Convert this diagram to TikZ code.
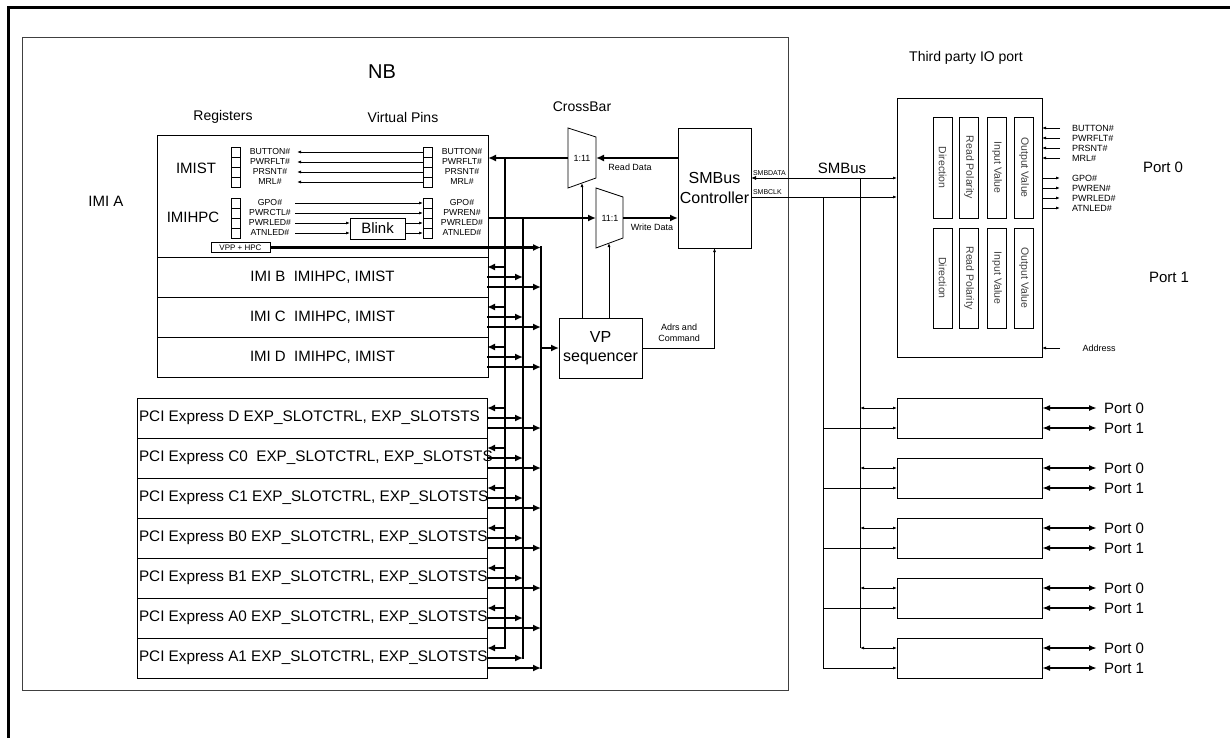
\documentclass[tikz,border=0pt]{standalone}
\usepackage{fontspec}
\setmainfont{Liberation Sans}
\usetikzlibrary{arrows.meta,calc}
\begin{document}
\begin{tikzpicture}[x=1pt,y=-1pt,
  every node/.style={inner sep=0pt,outer sep=0pt},
  box/.style={draw,line width=0.8pt},
  sq/.style={draw,line width=0.6pt,minimum width=9pt,minimum height=10pt},
  fbig/.style={font=\fontsize{20}{24}\selectfont},
  f16/.style={font=\fontsize{16}{19.5}\selectfont},
  f15/.style={font=\fontsize{15}{18}\selectfont},
  fpci/.style={font=\fontsize{15.3}{18}\selectfont},
  f14/.style={font=\fontsize{14}{17}\selectfont},
  f10/.style={font=\fontsize{10.5}{12}\selectfont},
  f9/.style={font=\fontsize{9}{11}\selectfont},
  f85/.style={font=\fontsize{8.7}{10}\selectfont},
  f7/.style={font=\fontsize{7}{8}\selectfont},
  bus/.style={line width=2.4pt},
  tl/.style={line width=0.8pt},
  ah/.style={-{Latex[length=8pt,width=7pt]}},
  sah/.style={-{Latex[length=4pt,width=3pt]}},
  dsah/.style={{Latex[length=4pt,width=3pt]}-{Latex[length=4pt,width=3pt]}},
  pah/.style={line width=1.8pt,{Latex[length=8pt,width=6pt]}-{Latex[length=8pt,width=6pt]}},
]
\useasboundingbox (0,0) rectangle (1230,738);
\fill[white] (0,0) rectangle (1230,738);
\draw[line width=3pt] (8,738) -- (8,8) -- (1230,8);

% NB box
\node[draw=black!75,line width=1pt,minimum width=766pt,minimum height=652pt] (nb) at (405,364) {};
\node[fbig] (nbl) at (382,72) {NB};
\node[f14] (tpl) at (966,58) {Third party IO port};
\node[f14] (regl) at (223,117) {Registers};
\node[f14] (vpl) at (403,117) {Virtual Pins};
\node[f14] (cbl) at (582,107) {CrossBar};
\node[f15] (imial) at (106,201) {IMI A};

% IMI A
\node[box,minimum width=331pt,minimum height=122pt] (imia) at (322.5,196) {};
\node[f15] (imist) at (196,168) {IMIST};
\node[f15] (imihpc) at (193,217) {IMIHPC};
\foreach \y in {152,162,172,182,203,213,223,233}{
  \node[sq] at (235.5,\y) {};
  \node[sq] at (427.5,\y) {};
}
\foreach \y/\a/\b in {152/BUTTON\#/BUTTON\#,162/PWRFLT\#/PWRFLT\#,172/PRSNT\#/PRSNT\#,182/MRL\#/MRL\#,203/GPO\#/GPO\#,213/PWRCTL\#/PWREN\#,223/PWRLED\#/PWRLED\#,233/ATNLED\#/ATNLED\#}{
  \node[f85] at (270,\y) {\a};
  \node[f85] at (462,\y) {\b};
}
\node[box,minimum width=55pt,minimum height=21pt,f15] (blink) at (377.5,228.5) {Blink};
\foreach \y in {152,162,172,182} \draw[tl,sah] (423,\y) -- (297,\y);
\foreach \y in {203,213} \draw[tl,sah] (295,\y) -- (423,\y);
\foreach \y in {223,233}{
  \draw[tl,sah] (295,\y) -- (blink.west |- 0,\y);
  \draw[tl,sah] (blink.east |- 0,\y) -- (423,\y);
}
\node[draw,line width=0.6pt,minimum width=59pt,minimum height=10pt,font=\fontsize{8}{9}\selectfont] (vpp) at (240.5,247.5) {VPP + HPC};

% IMI B..D
\node[box,minimum width=331pt,minimum height=40pt,f15] (imib) at (322.5,277) {IMI B\ \ IMIHPC, IMIST};
\node[box,minimum width=331pt,minimum height=40pt,f15] (imic) at (322.5,317) {IMI C\ \ IMIHPC, IMIST};
\node[box,minimum width=331pt,minimum height=40pt,f15] (imid) at (322.5,357) {IMI D\ \ IMIHPC, IMIST};

% PCI Express
\node[box,minimum width=350pt,minimum height=40pt] (pd) at (312,418) {};
\node[box,minimum width=350pt,minimum height=40pt] (pc0) at (312,458) {};
\node[box,minimum width=350pt,minimum height=40pt] (pc1) at (312,498) {};
\node[box,minimum width=350pt,minimum height=40pt] (pb0) at (312,538) {};
\node[box,minimum width=350pt,minimum height=40pt] (pb1) at (312,578) {};
\node[box,minimum width=350pt,minimum height=40pt] (pa0) at (312,618) {};
\node[box,minimum width=350pt,minimum height=40pt] (pa1) at (312,658) {};
\node[fpci,anchor=west] (pdt) at (139,418) {PCI Express D EXP\_SLOTCTRL, EXP\_SLOTSTS};
\node[fpci,anchor=west] (pc0t) at (139,458) {PCI Express C0\ \ EXP\_SLOTCTRL, EXP\_SLOTSTS};
\node[fpci,anchor=west] (pc1t) at (139,498) {PCI Express C1 EXP\_SLOTCTRL, EXP\_SLOTSTS};
\node[fpci,anchor=west] (pb0t) at (139,538) {PCI Express B0 EXP\_SLOTCTRL, EXP\_SLOTSTS};
\node[fpci,anchor=west] (pb1t) at (139,578) {PCI Express B1 EXP\_SLOTCTRL, EXP\_SLOTSTS};
\node[fpci,anchor=west] (pa0t) at (139,618) {PCI Express A0 EXP\_SLOTCTRL, EXP\_SLOTSTS};
\node[fpci,anchor=west] (pa1t) at (139,658) {PCI Express A1 EXP\_SLOTCTRL, EXP\_SLOTSTS};

% Crossbar muxes
\coordinate (m1a) at (568,128); \coordinate (m1b) at (596,137);
\coordinate (m1c) at (596,178); \coordinate (m1d) at (568,188);
\draw[tl] (m1a) -- (m1b) -- (m1c) -- (m1d) -- cycle;
\node[f9] (m1) at (582,158) {1:11};
\coordinate (m2a) at (596,188); \coordinate (m2b) at (623,197);
\coordinate (m2c) at (623,238); \coordinate (m2d) at (596,248);
\draw[tl] (m2a) -- (m2b) -- (m2c) -- (m2d) -- cycle;
\node[f9] (m2) at (610,218) {11:1};

% SMBus controller and VP sequencer
\node[box,minimum width=73pt,minimum height=120pt,f16,align=center] (smb) at (714.5,188) {SMBus\\Controller};
\node[box,minimum width=83pt,minimum height=60pt,f16,align=center] (vp) at (600.5,348) {VP\\sequencer};

% data paths
\draw[bus,ah] (smb.west |- 0,158) -- (596,158);
\node[f9] (rdl) at (630,167) {Read Data};
\draw[bus,ah] (568,158) -- (imia.east |- 0,158);
\draw[bus,ah] (imia.east |- 0,218) -- (596,218);
\draw[bus,ah] (623,218) -- (smb.west |- 0,218);
\node[f9] (wdl) at (652,227) {Write Data};
\draw[bus,ah] (vpp.east) -- (541,247.5);

% buses
\draw[bus,line cap=rect] (505,158) -- (505,648);
\draw[bus,line cap=rect] (523,218) -- (523,658);
\draw[bus,line cap=rect] (541,247.5) -- (541,668);
\foreach \t in {257,297,337,398,438,478,518,558,598,638}{
  \draw[bus,ah] (505,\t+10) -- (487,\t+10);
  \draw[bus,ah] (487,\t+20) -- (523,\t+20);
  \draw[bus,ah] (487,\t+30) -- (541,\t+30);
}
\draw[bus,ah] (541,348) -- (vp.west);

% control lines
\draw[tl,sah] (582,318) -- (582,183);
\draw[tl,sah] (609,318) -- (609,243);
\draw[tl,sah] (vp.east) -- (714.5,348) -- (smb.south);
\node[f9,align=center] (adr) at (679,333) {Adrs and\\Command};

% SMBus lines
\draw[tl,{Latex[length=5pt,width=4pt]}-{Latex[length=4pt,width=3pt]}] (smb.east |- 0,178) -- (897,178);
\draw[tl,sah] (smb.east |- 0,197) -- (897,197);
\node[f7,anchor=south west] (sdl) at (753,176) {SMBDATA};
\node[f7,anchor=south west] (scl) at (753,195) {SMBCLK};
\node[f15] (smbl) at (842,168) {SMBus};
\draw[tl] (860,178) -- (860,648);
\draw[tl] (823,197) -- (823,668);

% Third party IO port
\node[box,minimum width=145pt,minimum height=259pt] (tp) at (969.5,227.5) {};
\foreach \x/\txt in {942.5/Direction,969/Read Polarity,997/Input Value,1024/Output Value}{
  \node[box,minimum width=19pt,minimum height=101pt] at (\x,167.5) {};
  \node[rotate=-90,f10,text=black!75] at (\x,167.5) {\txt};
  \node[box,minimum width=19pt,minimum height=100pt] at (\x,278) {};
  \node[rotate=-90,f10,text=black!75] at (\x,278) {\txt};
}
\foreach \y/\txt in {128/BUTTON\#,138/PWRFLT\#,148/PRSNT\#,158/MRL\#}{
  \draw[tl,sah] (1060,\y) -- (1042,\y);
  \node[f9,anchor=west] at (1072,\y) {\txt};
}
\foreach \y/\txt in {178/GPO\#,188/PWREN\#,198/PWRLED\#,208/ATNLED\#}{
  \draw[tl,sah] (1042,\y) -- (1060,\y);
  \node[f9,anchor=west] at (1072,\y) {\txt};
}
\draw[tl,sah] (1060,348) -- (1042,348);
\node[f9] (addr) at (1099,348) {Address};
\node[f15] (p0) at (1163,167) {Port 0};
\node[f15] (p1) at (1169,277) {Port 1};

% expander boxes
\foreach \t [count=\i] in {398,458,518,578,638}{
  \node[box,minimum width=145pt,minimum height=40pt] (ex\i) at (969.5,\t+20) {};
  \draw[tl,dsah] (860,\t+10) -- (897,\t+10);
  \draw[tl,sah] (823,\t+30) -- (897,\t+30);
  \draw[pah] (1042,\t+10) -- (1097,\t+10);
  \draw[pah] (1042,\t+30) -- (1097,\t+30);
  \node[f15,anchor=west] at (1104,\t+10) {Port 0};
  \node[f15,anchor=west] at (1104,\t+30) {Port 1};
}
\end{tikzpicture}
\end{document}
